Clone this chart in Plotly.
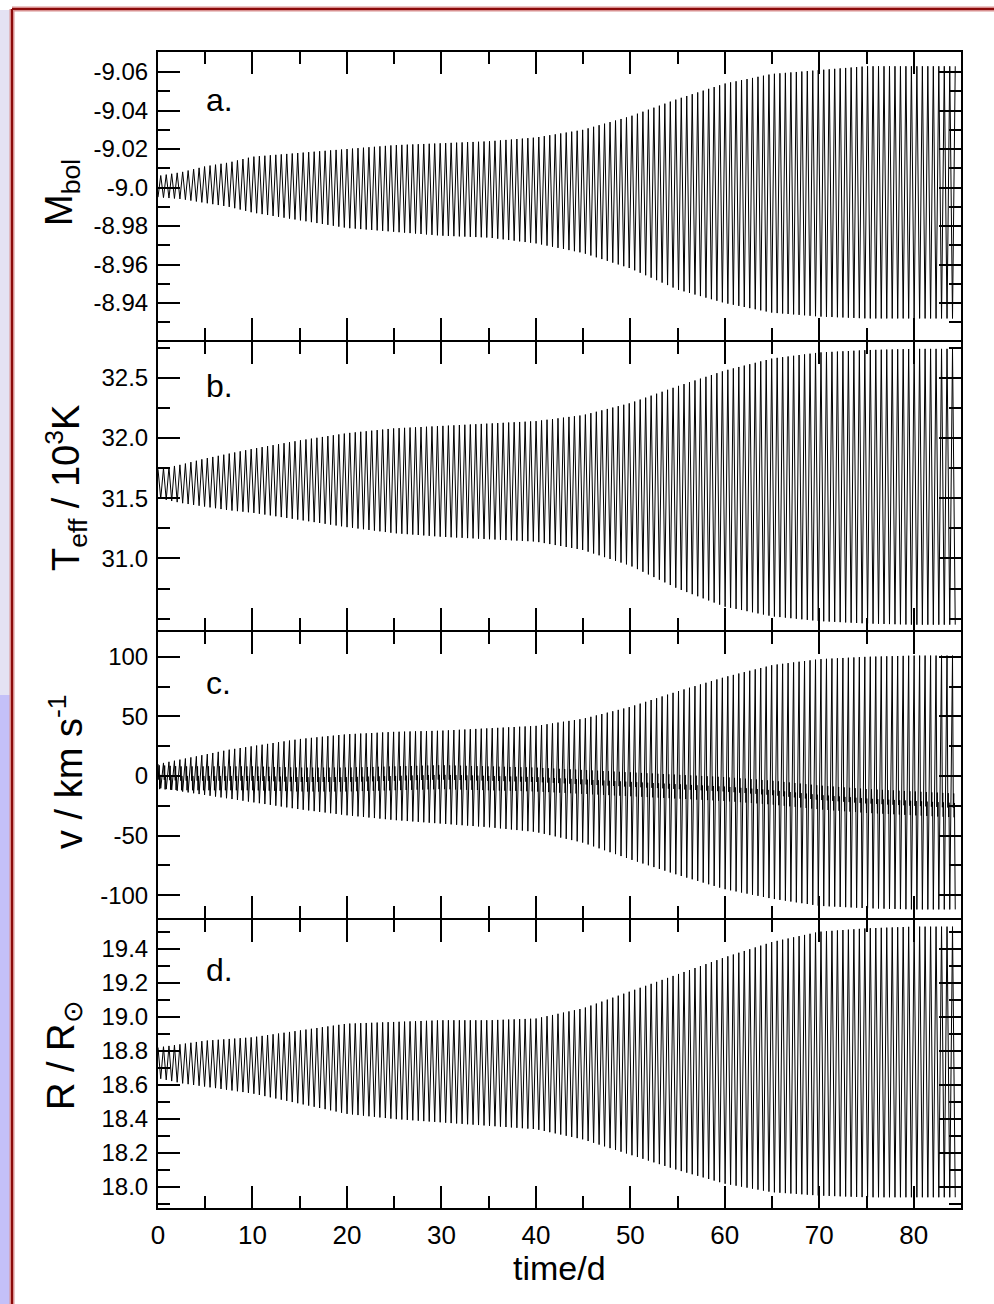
import numpy as np
import plotly.graph_objects as go

# ---------------- data ----------------
# envelope knots (days)
env_t = [0, 2.5, 5, 7.5, 10, 15, 20, 25, 30, 35, 40, 45, 50, 55, 60, 65, 70, 75, 80, 85]

# panel a: bolometric magnitude (bright extreme = more negative)
mbol_bright = [-9.006, -9.008, -9.011, -9.013, -9.016, -9.018, -9.020, -9.022, -9.023, -9.024,
               -9.026, -9.030, -9.037, -9.046, -9.054, -9.059, -9.061, -9.063, -9.063, -9.063]
mbol_faint = [-8.995, -8.994, -8.992, -8.990, -8.987, -8.983, -8.979, -8.977, -8.975, -8.974,
              -8.971, -8.966, -8.958, -8.947, -8.940, -8.935, -8.933, -8.932, -8.932, -8.932]

# panel b: effective temperature (10^3 K)
teff_high = [31.74, 31.78, 31.83, 31.87, 31.91, 31.98, 32.04, 32.08, 32.10, 32.12,
             32.14, 32.19, 32.29, 32.43, 32.56, 32.66, 32.71, 32.73, 32.74, 32.74]
teff_low = [31.50, 31.46, 31.43, 31.40, 31.38, 31.32, 31.26, 31.21, 31.18, 31.16,
            31.14, 31.07, 30.94, 30.75, 30.60, 30.52, 30.48, 30.46, 30.45, 30.45]

# panel c: velocity (km/s)
v_high = [10, 14, 18, 22, 25, 31, 35, 37, 38, 40, 42, 48, 58, 71, 83, 93, 98, 100, 101, 101]
v_low = [-10, -13, -16, -19, -22, -28, -33, -37, -40, -43, -47, -56, -70, -83, -95, -103, -109, -111, -112, -112]
v_band = [-2, -3, -3, -3, -3, -4, -4, -3, -2, -3, -4, -6, -8, -10, -12, -15, -19, -22, -24, -26]

# panel d: radius (R_sun)
r_high = [18.82, 18.84, 18.86, 18.87, 18.88, 18.92, 18.96, 18.97, 18.98, 18.98,
          18.99, 19.05, 19.15, 19.25, 19.35, 19.44, 19.50, 19.52, 19.53, 19.53]
r_low = [18.64, 18.61, 18.59, 18.57, 18.55, 18.49, 18.43, 18.40, 18.38, 18.36,
         18.34, 18.28, 18.19, 18.10, 18.02, 17.97, 17.95, 17.94, 17.94, 17.94]

pulse_period = 0.58   # days
t_end = 84.5          # days

# axis ticks
x_ticks = [0, 10, 20, 30, 40, 50, 60, 70, 80]
x_minor = [5, 15, 25, 35, 45, 55, 65, 75]
a_ticks = [-9.06, -9.04, -9.02, -9.0, -8.98, -8.96, -8.94]
a_text = ["-9.06", "-9.04", "-9.02", "-9.0", "-8.98", "-8.96", "-8.94"]
a_minor = [-9.07, -9.05, -9.03, -9.01, -8.99, -8.97, -8.95, -8.93]
b_ticks = [31.0, 31.5, 32.0, 32.5]
b_text = ["31.0", "31.5", "32.0", "32.5"]
b_minor = [30.5, 30.75, 31.25, 31.75, 32.25, 32.75]
c_ticks = [-100, -50, 0, 50, 100]
c_text = ["-100", "-50", "0", "50", "100"]
c_minor = [-75, -25, 25, 75]
d_ticks = [18.0, 18.2, 18.4, 18.6, 18.8, 19.0, 19.2, 19.4]
d_text = ["18.0", "18.2", "18.4", "18.6", "18.8", "19.0", "19.2", "19.4"]
d_minor = [17.9, 18.1, 18.3, 18.5, 18.7, 18.9, 19.1, 19.3, 19.5]

y_titles = ["M<sub>bol</sub>", "T<sub>eff</sub> / 10<sup>3</sup>K", "v / km s<sup>-1</sup>", "R / R<sub>⊙</sub>"]
panel_letters = ["a.", "b.", "c.", "d."]

# ---------------- build the pulsation traces ----------------
n_cyc = int(t_end / pulse_period)
t_peak = np.arange(n_cyc + 1) * pulse_period
t_trough = t_peak + 0.5 * pulse_period


def zigzag(hi, lo):
    xs, ys = [], []
    for tp, tt in zip(t_peak, t_trough):
        xs += [tp, tt]
        ys += [np.interp(tp, env_t, hi), np.interp(tt, env_t, lo)]
    return xs, ys


def zigzag_band(hi, lo, band):
    xs, ys = [], []
    P = pulse_period
    for tp in t_peak:
        b = np.interp(tp + 0.25 * P, env_t, band)
        xs += [tp, tp + 0.15 * P, tp + 0.22 * P, tp + 0.30 * P, tp + 0.36 * P, tp + 0.5 * P]
        ys += [np.interp(tp, env_t, hi), b - 1, b + 11, b - 9, b + 3,
               np.interp(tp + 0.5 * P, env_t, lo)]
    return xs, ys


series = [zigzag(mbol_faint, mbol_bright), zigzag(teff_high, teff_low),
          zigzag_band(v_high, v_low, v_band), zigzag(r_high, r_low)]

# ---------------- figure ----------------
W, H = 994, 1304
ml, mr, mt, mb = 158, 33, 52, 96
pw, ph = W - ml - mr, H - mt - mb
FONT = "Liberation Sans, Arial, Helvetica, sans-serif"


def px_x(px):
    return (px - ml) / pw


def px_y(py):
    return (H - mb - py) / ph


bounds = [52, 340, 630, 918, 1208]
domains = []
for i in range(4):
    top = bounds[i] + (2 if i > 0 else 0)
    domains.append([px_y(bounds[i + 1]), px_y(top)])
ranges = [[-8.9208, -9.0704], [30.406, 32.797], [-119.2, 120.8], [17.877, 19.569]]
ticks = [(a_ticks, a_text, a_minor), (b_ticks, b_text, b_minor),
         (c_ticks, c_text, c_minor), (d_ticks, d_text, d_minor)]

fig = go.Figure()
for i, (xs, ys) in enumerate(series):
    n = "" if i == 0 else str(i + 1)
    fig.add_trace(go.Scatter(x=xs, y=ys, mode="lines", line=dict(color="black", width=1),
                             xaxis="x" + n, yaxis="y" + n, showlegend=False, hoverinfo="skip"))

layout = dict(width=W, height=H, margin=dict(l=ml, r=mr, t=mt, b=mb, pad=0),
              paper_bgcolor="white", plot_bgcolor="white",
              font=dict(family=FONT, color="black"), showlegend=False)

for i in range(4):
    n = "" if i == 0 else str(i + 1)
    tv, tt, mv = ticks[i]
    layout["xaxis" + n] = dict(
        domain=[0, 1], range=[0, 85], anchor="y" + n,
        matches=None if i == 0 else "x",
        showline=True, linecolor="black", linewidth=2, mirror="allticks",
        ticks="inside", ticklen=22, tickwidth=2, tickcolor="black",
        tickvals=x_ticks, ticktext=[str(v) for v in x_ticks],
        showticklabels=(i == 3), tickfont=dict(size=26, family=FONT),
        ticklabelstandoff=3,
        minor=dict(tickvals=x_minor, ticks="inside", ticklen=12, tickwidth=2, tickcolor="black"),
        showgrid=False, zeroline=False)
    layout["yaxis" + n] = dict(
        domain=domains[i], range=ranges[i], anchor="x" + n,
        showline=True, linecolor="black", linewidth=2, mirror="allticks",
        ticks="inside", ticklen=22, tickwidth=2, tickcolor="black",
        tickvals=tv, ticktext=tt, tickfont=dict(size=24, family=FONT),
        ticklabelstandoff=3,
        minor=dict(tickvals=mv, ticks="inside", ticklen=12, tickwidth=2, tickcolor="black"),
        showgrid=False, zeroline=False)

fig.update_layout(**layout)

# axis titles and panel letters
title_y = [193, 488, 772, 1055]
title_x = [62, 66, 66, 64]
letter_y = [100, 386, 683, 970]
for i in range(4):
    fig.add_annotation(x=px_x(title_x[i]), y=px_y(title_y[i]), xref="paper", yref="paper",
                       text=y_titles[i], textangle=-90, showarrow=False,
                       xanchor="center", yanchor="middle", font=dict(size=38, family=FONT))
    fig.add_annotation(x=px_x(204), y=px_y(letter_y[i]), xref="paper", yref="paper",
                       text=panel_letters[i], showarrow=False,
                       xanchor="left", yanchor="middle", font=dict(size=32, family=FONT))

fig.add_annotation(x=0.5, y=px_y(1268), xref="paper", yref="paper", text="time/d",
                   showarrow=False, xanchor="center", yanchor="middle", font=dict(size=34, family=FONT))

# slide frame decoration around the chart
fig.add_shape(type="rect", xref="paper", yref="paper", x0=px_x(0), x1=px_x(11),
              y0=px_y(695), y1=px_y(10), fillcolor="#e4e2f3", line=dict(width=0), layer="below")
fig.add_shape(type="rect", xref="paper", yref="paper", x0=px_x(0), x1=px_x(11),
              y0=px_y(1304), y1=px_y(695), fillcolor="#c4c0f8", line=dict(width=0), layer="below")
for col, w in (("#d89090", 5), ("#8b0a0a", 2)):
    fig.add_shape(type="line", xref="paper", yref="paper", x0=px_x(12), x1=px_x(994),
                  y0=px_y(9), y1=px_y(9), line=dict(color=col, width=w))
    fig.add_shape(type="line", xref="paper", yref="paper", x0=px_x(12), x1=px_x(12),
                  y0=px_y(9), y1=px_y(1304), line=dict(color=col, width=w))

fig.write_html("out.html")
